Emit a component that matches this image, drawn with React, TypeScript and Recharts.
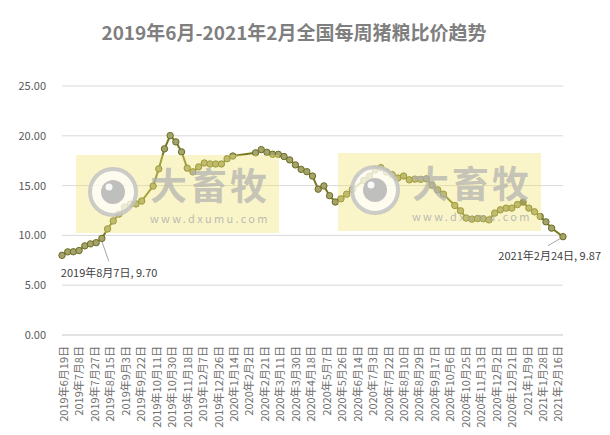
import { LineChart, Line, XAxis, YAxis, CartesianGrid } from "recharts";

// weekly survey dates (weeks without a published figure are left out)
const weekDates = [
  "2019-06-19", "2019-06-26", "2019-07-03", "2019-07-10", "2019-07-17", "2019-07-24", "2019-07-31",
  "2019-08-07", "2019-08-14", "2019-08-21", "2019-08-28", "2019-09-04", "2019-09-11", "2019-09-18",
  "2019-09-25", "2019-10-09", "2019-10-16", "2019-10-23", "2019-10-30", "2019-11-06", "2019-11-13",
  "2019-11-20", "2019-11-27", "2019-12-04", "2019-12-11", "2019-12-18", "2019-12-25", "2020-01-01",
  "2020-01-08", "2020-01-15", "2020-02-12", "2020-02-19", "2020-02-26", "2020-03-04", "2020-03-11",
  "2020-03-18", "2020-03-25", "2020-04-01", "2020-04-08", "2020-04-15", "2020-04-22", "2020-04-29",
  "2020-05-06", "2020-05-13", "2020-05-20", "2020-05-27", "2020-06-03", "2020-06-10", "2020-06-24",
  "2020-07-01", "2020-07-08", "2020-07-15", "2020-07-22", "2020-07-29", "2020-08-05", "2020-08-12",
  "2020-08-19", "2020-08-26", "2020-09-02", "2020-09-09", "2020-09-16", "2020-09-23", "2020-09-30",
  "2020-10-14", "2020-10-21", "2020-10-28", "2020-11-04", "2020-11-11", "2020-11-18", "2020-11-25",
  "2020-12-02", "2020-12-09", "2020-12-16", "2020-12-23", "2020-12-30", "2021-01-06", "2021-01-13",
  "2021-01-20", "2021-01-27", "2021-02-03", "2021-02-10", "2021-02-24",
];

const ratios = [
  8.0, 8.35, 8.36, 8.48, 8.95, 9.15, 9.27,
  9.7, 10.65, 11.45, 12.14, 12.85, 13.14, 13.16,
  13.45, 14.95, 16.68, 18.69, 20.02, 19.39, 18.39,
  16.75, 16.38, 16.88, 17.27, 17.17, 17.17, 17.17,
  17.7, 17.97, 18.29, 18.61, 18.34, 18.15, 18.14,
  17.92, 17.58, 17.08, 16.63, 16.4, 15.96, 14.64,
  14.97, 13.99, 13.35, 13.67, 14.14, 14.62, 15.51,
  15.93, 16.58, 16.8, 16.36, 16.1, 15.76, 15.96,
  15.58, 15.65, 15.63, 15.68, 15.04, 14.57, 14.14,
  13.0, 12.47, 11.74, 11.63, 11.7, 11.67, 11.56,
  12.24, 12.57, 12.74, 12.74, 13.1, 13.34, 12.74,
  12.37, 11.9, 11.36, 10.73, 9.87,
];

const tickDates = [
  "2019-06-19", "2019-07-08", "2019-07-27", "2019-08-15", "2019-09-03", "2019-09-22", "2019-10-11",
  "2019-10-30", "2019-11-18", "2019-12-07", "2019-12-26", "2020-01-14", "2020-02-02", "2020-02-21",
  "2020-03-11", "2020-03-30", "2020-04-18", "2020-05-07", "2020-05-26", "2020-06-14", "2020-07-03",
  "2020-07-22", "2020-08-10", "2020-08-29", "2020-09-17", "2020-10-06", "2020-10-25", "2020-11-13",
  "2020-12-02", "2020-12-21", "2021-01-09", "2021-01-28", "2021-02-16",
];

const yTicks = [0, 5, 10, 15, 20, 25];
const calloutDates = ["2019-08-07", "2021-02-24"];
const highlightDate = "2021-01-06";

const FONT = '"Noto Sans CJK SC", "Noto Sans", sans-serif';

const parts = (iso: string) => iso.split("-").map(Number);
const START = Date.UTC(2019, 5, 19);
const dayOf = (iso: string) => {
  const [y, m, d] = parts(iso);
  return Math.round((Date.UTC(y, m - 1, d) - START) / 86400000);
};
const cnDate = (iso: string) => {
  const [y, m, d] = parts(iso);
  return `${y}年${m}月${d}日`;
};

const data = weekDates.map((date, i) => ({ date, day: dayOf(date), ratio: ratios[i] }));
const lastDay = dayOf(weekDates[weekDates.length - 1]);
const labelByDay: Record<number, string> = {};
tickDates.forEach((d) => (labelByDay[dayOf(d)] = cnDate(d)));

const DateTick = ({ x, y, payload }: any) => (
  <text
    x={x + 1}
    y={y + 11}
    transform={`rotate(-90, ${x + 1}, ${y + 11})`}
    textAnchor="end"
    dominantBaseline="central"
    fontSize={11}
    fill="#707070"
    fontFamily={FONT}
  >
    {labelByDay[payload.value]}
  </text>
);

const renderDot = (props: any) => {
  const { cx, cy, index, payload } = props;
  const isHi = payload.date === highlightDate;
  const ci = calloutDates.indexOf(payload.date);
  let callout = null;
  if (ci === 0) {
    callout = (
      <g>
        <line x1={cx} y1={cy + 3} x2={cx + 7} y2={cy + 23} stroke="#a6a6a6" strokeWidth={1} />
        <text x={cx - 41} y={cy + 34} dominantBaseline="central" fontSize={11} fill="#404040" fontFamily={FONT}>
          {`${cnDate(payload.date)}, ${payload.ratio.toFixed(2)}`}
        </text>
      </g>
    );
  } else if (ci === 1) {
    callout = (
      <g>
        <line x1={cx - 3} y1={cy + 2} x2={cx - 15} y2={cy + 9} stroke="#a6a6a6" strokeWidth={1} />
        <text x={cx + 38} y={cy + 18} textAnchor="end" dominantBaseline="central" fontSize={11} fill="#404040" fontFamily={FONT}>
          {`${cnDate(payload.date)}, ${payload.ratio.toFixed(2)}`}
        </text>
      </g>
    );
  }
  return (
    <g key={`dot-${index}`}>
      {callout}
      <circle cx={cx} cy={cy} r={3.2} fill={isHi ? "#6e6e48" : "#a3a36b"} stroke="#6c6c22" strokeWidth={1} />
    </g>
  );
};

function Watermark({ left, top }: { left: number; top: number }) {
  return (
    <div
      style={{
        position: "absolute",
        left,
        top,
        width: 203,
        height: 78,
        background: "rgba(240,228,110,0.38)",
        pointerEvents: "none",
      }}
    >
      <svg width={203} height={78} style={{ position: "absolute", left: 0, top: 0 }}>
        <circle cx={37} cy={37} r={23} fill="rgba(255,255,255,0.7)" stroke="rgba(195,195,195,0.85)" strokeWidth={4} />
        <circle cx={37} cy={37} r={12} fill="rgba(180,180,180,0.85)" />
        <circle cx={33} cy={32} r={3.5} fill="rgba(255,255,255,0.9)" />
        <text x={74} y={45} fontSize={37} fontWeight="bold" letterSpacing={3} fill="rgba(175,175,175,0.7)" fontFamily={FONT}>
          大畜牧
        </text>
        <text x={74} y={68} fontSize={11} letterSpacing={2.3} fill="rgba(170,170,170,0.8)" fontFamily={FONT}>
          www.dxumu.com
        </text>
      </svg>
    </div>
  );
}

export default function App() {
  return (
    <div style={{ position: "absolute", left: 0, top: 0, width: 610, height: 435, background: "#fff", fontFamily: FONT }}>
      <div
        style={{
          position: "absolute",
          left: 0,
          top: 18,
          width: 588,
          textAlign: "center",
          fontSize: 19,
          lineHeight: "28px",
          fontWeight: "bold",
          color: "#7f7f7f",
        }}
      >
        2019年6月-2021年2月全国每周猪粮比价趋势
      </div>
      <LineChart
        width={610}
        height={435}
        data={data}
        margin={{ top: 86, right: 47, left: 0, bottom: 0 }}
        style={{ position: "absolute", left: 0, top: 0 }}
      >
        <CartesianGrid vertical={false} stroke="#d9d9d9" />
        <XAxis
          type="number"
          dataKey="day"
          domain={[0, lastDay]}
          ticks={tickDates.map(dayOf)}
          interval={0}
          tick={<DateTick />}
          tickLine={false}
          tickSize={0}
          tickMargin={0}
          axisLine={{ stroke: "#d9d9d9" }}
          height={100}
        />
        <YAxis
          domain={[0, 25]}
          ticks={yTicks}
          tickFormatter={(v: number) => v.toFixed(2)}
          axisLine={false}
          tickLine={false}
          tickSize={0}
          tickMargin={16}
          width={62}
          tick={{ fontSize: 11, fill: "#595959", fontFamily: FONT }}
        />
        <Line
          type="linear"
          dataKey="ratio"
          stroke="#77771d"
          strokeWidth={2}
          dot={renderDot}
          activeDot={false}
          isAnimationActive={false}
        />
      </LineChart>
      <Watermark left={76} top={155} />
      <Watermark left={338} top={153} />
    </div>
  );
}
